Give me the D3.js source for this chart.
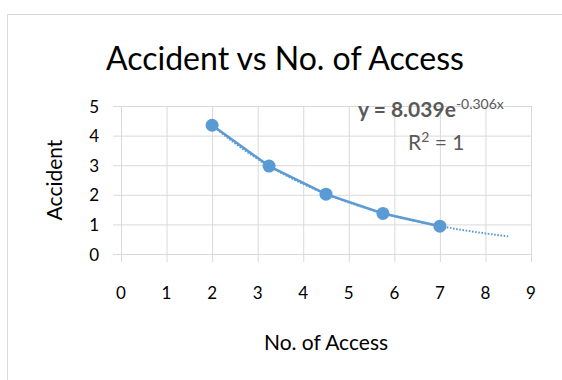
<!DOCTYPE html>
<html>
<head>
<meta charset="utf-8">
<script src="https://cdn.jsdelivr.net/npm/d3@7"></script>
<style>
  html, body { margin: 0; padding: 0; background: #fff; }
  svg { display: block; font-family: Lato, "Open Sans", sans-serif; }
</style>
</head>
<body>
<svg id="chart" width="562" height="380"></svg>
<script>
// Observations: number of access points vs. accidents
const access = [2, 3.25, 4.5, 5.75, 7];
const accidents = [4.35, 2.97, 2.02, 1.37, 0.94];

// Axis tick values
const xTicks = [0, 1, 2, 3, 4, 5, 6, 7, 8, 9];
const yTicks = [0, 1, 2, 3, 4, 5];

// Exponential trendline coefficients (y = a·e^(b·x)) and forecast range
const trendA = 8.039;
const trendB = -0.306;
const trendRange = [2, 8.5];

const svg = d3.select("#chart");
const textColor = "#000";
const gridColor = "#d9d9d9";
const seriesColor = "#5b9bd5";

// chart area border
svg.append("rect")
  .attr("x", 7.5).attr("y", 14.5)
  .attr("width", 600).attr("height", 400)
  .attr("fill", "#fff").attr("stroke", gridColor);

const x = d3.scaleLinear().domain([0, 9]).range([121, 531]);
const y = d3.scaleLinear().domain([0, 5]).range([254, 106]);

// vertical gridlines with tick extension below the axis
svg.append("g")
  .attr("transform", "translate(0,262)")
  .call(d3.axisBottom(x).tickValues(xTicks).tickSize(156).tickFormat(""))
  .call(g => g.select(".domain").remove())
  .call(g => g.selectAll(".tick line").attr("y2", -156).attr("stroke", gridColor));

// horizontal gridlines with tick extension left of the axis
svg.append("g")
  .attr("transform", "translate(113,0)")
  .call(d3.axisRight(y).tickValues(yTicks).tickSize(418).tickFormat(""))
  .call(g => g.select(".domain").remove())
  .call(g => g.selectAll(".tick line").attr("stroke", gridColor));

// x tick labels
svg.append("g")
  .selectAll("text")
  .data(xTicks)
  .join("text")
  .attr("x", d => x(d))
  .attr("y", 299)
  .attr("text-anchor", "middle")
  .attr("font-size", 17)
  .attr("fill", textColor)
  .text(d => d);

// y tick labels
svg.append("g")
  .selectAll("text")
  .data(yTicks)
  .join("text")
  .attr("x", 99)
  .attr("y", d => y(d) + 6.5)
  .attr("text-anchor", "end")
  .attr("font-size", 17)
  .attr("fill", textColor)
  .text(d => d);

// title
svg.append("text")
  .attr("x", 285).attr("y", 70)
  .attr("text-anchor", "middle")
  .attr("font-size", 32)
  .attr("fill", textColor)
  .text("Accident vs No. of Access");

// axis titles
svg.append("text")
  .attr("x", 326).attr("y", 350)
  .attr("text-anchor", "middle")
  .attr("font-size", 21)
  .attr("fill", textColor)
  .text("No. of Access");

svg.append("text")
  .attr("transform", "translate(62,180) rotate(-90)")
  .attr("text-anchor", "middle")
  .attr("font-size", 21)
  .attr("fill", textColor)
  .text("Accident");

// series line
const pts = access.map((a, i) => [a, accidents[i]]);
svg.append("path")
  .datum(pts)
  .attr("fill", "none")
  .attr("stroke", seriesColor)
  .attr("stroke-width", 2.5)
  .attr("d", d3.line().x(d => x(d[0])).y(d => y(d[1])));

// dotted exponential trendline
const trendPts = d3.range(trendRange[0], trendRange[1] + 0.001, 0.05)
  .map(v => [v, trendA * Math.exp(trendB * v)]);
svg.append("path")
  .datum(trendPts)
  .attr("fill", "none")
  .attr("stroke", seriesColor)
  .attr("stroke-width", 2)
  .attr("stroke-dasharray", "1.6,1.6")
  .attr("d", d3.line().curve(d3.curveMonotoneX).x(d => x(d[0])).y(d => y(d[1])));

// markers
svg.append("g")
  .selectAll("circle")
  .data(pts)
  .join("circle")
  .attr("cx", d => x(d[0]))
  .attr("cy", d => y(d[1]))
  .attr("r", 6.5)
  .attr("fill", seriesColor);

// trendline equation and R²
const eq = svg.append("text")
  .attr("x", 358).attr("y", 117)
  .attr("font-size", 21)
  .attr("font-weight", "bold")
  .attr("fill", "#595959");
eq.append("tspan").text(`y = ${trendA}e`);
eq.append("tspan")
  .attr("dy", -8)
  .attr("font-size", 14)
  .attr("font-weight", "normal")
  .text(`${trendB}x`);

const r2 = svg.append("text")
  .attr("x", 408).attr("y", 150)
  .attr("font-size", 21)
  .attr("fill", "#595959");
r2.append("tspan").text("R");
r2.append("tspan").attr("dy", -8).attr("font-size", 14).text("2");
r2.append("tspan").attr("dy", 8).text(" = 1");
</script>
</body>
</html>
